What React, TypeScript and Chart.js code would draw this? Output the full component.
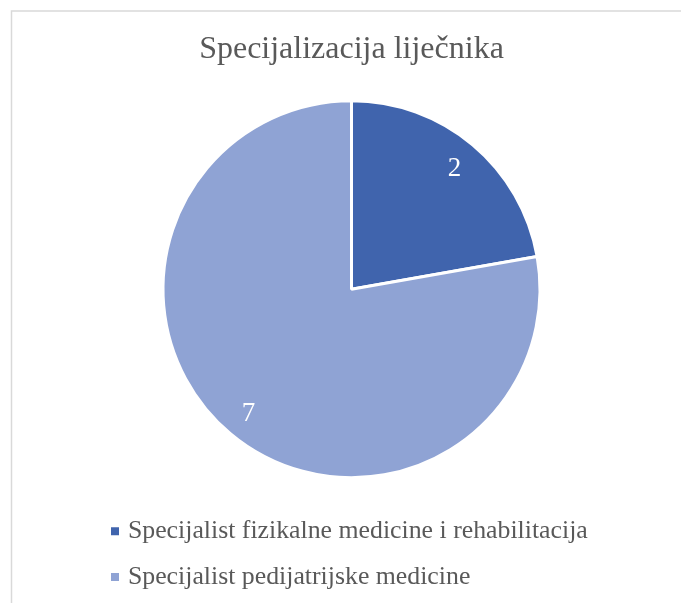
import React, { useEffect, useRef } from "react";
import { Chart, registerables } from "chart.js";

Chart.register(...registerables);

const title = "Specijalizacija liječnika";
const categories = [
  "Specijalist fizikalne medicine i rehabilitacija",
  "Specijalist pedijatrijske medicine",
];
const values = [2, 7];
const colors = ["#4064ad", "#8fa3d4"];

const FONT = "'Liberation Serif', 'Times New Roman', serif";
const TEXT_COLOR = "#595959";

const framePlugin = {
  id: "frame",
  beforeDraw(chart: any) {
    const ctx = chart.ctx;
    ctx.save();
    ctx.strokeStyle = "#d9d9d9";
    ctx.lineWidth = 1.5;
    ctx.beginPath();
    ctx.moveTo(11.5, chart.height);
    ctx.lineTo(11.5, 11);
    ctx.lineTo(chart.width, 11);
    ctx.stroke();
    ctx.restore();
  },
};

const labelPlugin = {
  id: "sliceLabels",
  afterDatasetsDraw(chart: any) {
    const ctx = chart.ctx;
    const meta = chart.getDatasetMeta(0);
    const data = chart.data.datasets[0].data;
    ctx.save();
    ctx.fillStyle = "#ffffff";
    ctx.font = `27px ${FONT}`;
    ctx.textAlign = "center";
    ctx.textBaseline = "middle";
    meta.data.forEach((arc: any, i: number) => {
      const p = arc.getProps(["x", "y", "startAngle", "endAngle", "outerRadius"], true);
      const mid = (p.startAngle + p.endAngle) / 2;
      const r = p.outerRadius * 0.85;
      ctx.fillText(String(data[i]), p.x + Math.cos(mid) * r, p.y + Math.sin(mid) * r + 2);
    });
    ctx.restore();
  },
};

export default function App() {
  const ref = useRef<HTMLCanvasElement>(null);
  useEffect(() => {
    document.body.style.margin = "0";
    const chart = new Chart(ref.current!, {
      type: "pie",
      data: {
        labels: categories,
        datasets: [
          {
            data: values,
            backgroundColor: colors,
            borderColor: "#ffffff",
            borderWidth: 3,
          },
        ],
      },
      options: {
        animation: false,
        responsive: false,
        radius: 188.5,
        layout: { padding: { left: 95, right: 73, top: 0, bottom: 3 } },
        plugins: {
          title: {
            display: true,
            text: title,
            color: TEXT_COLOR,
            font: { family: FONT, size: 32, weight: "normal" },
            padding: { top: 30, bottom: 11.6 },
          },
          legend: {
            position: "bottom",
            align: "start",
            labels: {
              color: TEXT_COLOR,
              font: { family: FONT, size: 25.8 },
              padding: 20,
              usePointStyle: true,
              pointStyle: "rect",
              boxWidth: 0.01,
              boxHeight: 8,
              generateLabels: (c: any) =>
                (Chart as any).overrides.pie.plugins.legend.labels
                  .generateLabels(c)
                  .map((l: any) => ({ ...l, lineWidth: 0, strokeStyle: "rgba(0,0,0,0)" })),
            },
          },
          tooltip: { enabled: false },
        },
      },
      plugins: [framePlugin, labelPlugin],
    });
    return () => chart.destroy();
  }, []);
  return (
    <div style={{ width: 681, height: 603 }}>
      <canvas ref={ref} width={681} height={603} style={{ display: "block" }} />
    </div>
  );
}
